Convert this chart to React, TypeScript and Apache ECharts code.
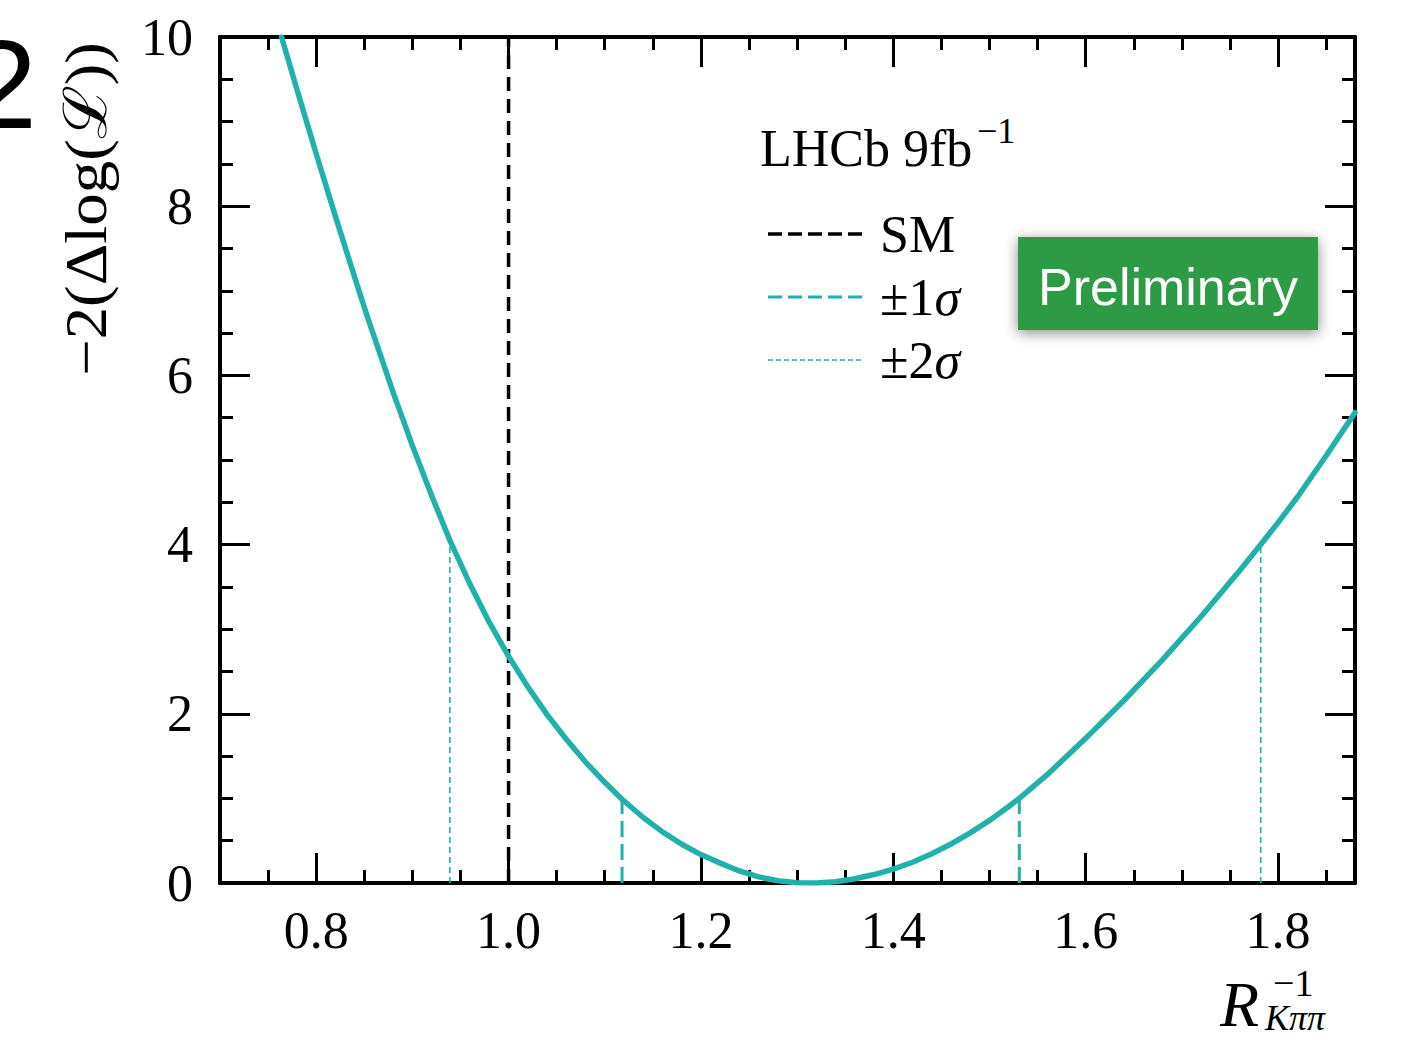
import React, { useEffect, useRef } from "react";
import * as echarts from "echarts";

// Profile likelihood scan: -2 Δlog(L) versus R^-1_{Kππ}
const scanX = [
  0.764, 0.78, 0.8, 0.82, 0.84, 0.853, 0.88, 0.9, 0.92, 0.939, 0.96, 0.98, 1.0,
  1.02, 1.04, 1.06, 1.08, 1.1, 1.118, 1.14, 1.16, 1.18, 1.2, 1.22, 1.24, 1.26,
  1.28, 1.3, 1.32, 1.34, 1.36, 1.38, 1.4, 1.42, 1.44, 1.46, 1.48, 1.5, 1.52,
  1.531, 1.56, 1.6, 1.64, 1.68, 1.72, 1.76, 1.782, 1.8, 1.82, 1.85, 1.88,
];
const scanNll = [
  10.0, 9.38, 8.62, 7.88, 7.16, 6.7, 5.8, 5.17, 4.58, 4.05, 3.53, 3.08, 2.68,
  2.32, 1.99, 1.7, 1.43, 1.19, 0.99, 0.774, 0.604, 0.458, 0.336, 0.235, 0.142,
  0.072, 0.026, 0.003, 0.0, 0.015, 0.05, 0.1, 0.165, 0.245, 0.346, 0.461,
  0.592, 0.74, 0.904, 1.0, 1.28, 1.71, 2.16, 2.64, 3.15, 3.69, 4.0, 4.26,
  4.56, 5.05, 5.56,
];

// Reference lines
const smValue = 1.0;
const sigma1Bounds = [1.118, 1.531];
const sigma1Level = 1;
const sigma2Bounds = [0.939, 1.782];
const sigma2Level = 4;

// Axis ranges and ticks
const xRange = [0.7, 1.88];
const yRange = [0, 10];
const xMajor = [0.8, 1.0, 1.2, 1.4, 1.6, 1.8];
const xMinor = [
  0.75, 0.85, 0.9, 0.95, 1.05, 1.1, 1.15, 1.25, 1.3, 1.35, 1.45, 1.5, 1.55,
  1.65, 1.7, 1.75, 1.85,
];
const yMajor = [0, 2, 4, 6, 8, 10];
const yMinor = [
  0.5, 1, 1.5, 2.5, 3, 3.5, 4.5, 5, 5.5, 6.5, 7, 7.5, 8.5, 9, 9.5,
];

const TEAL = "#20b2aa";
const SERIF = "'Liberation Serif', 'DejaVu Serif', serif";
const SANS = "'Liberation Sans', Arial, sans-serif";

const MAJOR_LEN = 30;
const MINOR_LEN = 13;

function xAxisDef(position: "top" | "bottom", ticks: number[], len: number, main: boolean) {
  return {
    type: "value",
    position,
    min: xRange[0],
    max: xRange[1],
    axisLine: { show: main, onZero: false, lineStyle: { color: "#000", width: 4 } },
    axisTick: {
      show: true,
      inside: true,
      length: len,
      customValues: ticks,
      lineStyle: { color: "#000", width: 3 },
    },
    axisLabel: {
      show: main && position === "bottom",
      customValues: xMajor,
      formatter: (v: number) => v.toFixed(1),
      fontFamily: SERIF,
      fontSize: 52,
      color: "#000",
      margin: 21,
    },
    splitLine: { show: false },
  };
}

function yAxisDef(position: "left" | "right", ticks: number[], len: number, main: boolean) {
  return {
    type: "value",
    position,
    min: yRange[0],
    max: yRange[1],
    axisLine: { show: main, onZero: false, lineStyle: { color: "#000", width: 4 } },
    axisTick: {
      show: true,
      inside: true,
      length: len,
      customValues: ticks,
      lineStyle: { color: "#000", width: 3 },
    },
    axisLabel: {
      show: main && position === "left",
      customValues: yMajor,
      formatter: (v: number) => String(v),
      fontFamily: SERIF,
      fontSize: 52,
      color: "#000",
      margin: 27,
    },
    splitLine: { show: false },
  };
}

function vLine(name: string, x: number, top: number, color: string, width: number, dash: number[]) {
  return {
    name,
    type: "line",
    xAxisIndex: 0,
    yAxisIndex: 0,
    data: [
      [x, 0],
      [x, top],
    ],
    showSymbol: false,
    silent: true,
    lineStyle: { color, width, type: dash },
    z: 3,
  };
}

function legendRow(y: number, color: string, width: number, dash: number[], rich: string) {
  return [
    {
      type: "line",
      shape: { x1: 768, y1: y, x2: 864, y2: y },
      style: { stroke: color, lineWidth: width, lineDash: dash },
    },
    {
      type: "text",
      x: 880,
      y,
      style: {
        text: rich,
        fill: "#000",
        font: `52px ${SERIF}`,
        verticalAlign: "middle",
        rich: {
          n: { fontFamily: SERIF, fontSize: 52, fill: "#000" },
          i: { fontFamily: SERIF, fontSize: 52, fontStyle: "italic", fill: "#000" },
        },
      },
    },
  ];
}

export default function App() {
  const ref = useRef<HTMLDivElement>(null);

  useEffect(() => {
    document.body.style.margin = "0";
    if (!ref.current) return;
    const chart = echarts.init(ref.current, null, { renderer: "svg" });

    const curve = scanX.map((x, i) => [x, scanNll[i]]);

    const option: any = {
      animation: false,
      backgroundColor: "#ffffff",
      grid: {
        left: 220,
        right: 49,
        top: 37,
        bottom: 156,
        outerBoundsMode: "none",
      },
      xAxis: [
        xAxisDef("bottom", xMajor, MAJOR_LEN, true),
        xAxisDef("bottom", xMinor, MINOR_LEN, false),
        xAxisDef("top", xMajor, MAJOR_LEN, true),
        xAxisDef("top", xMinor, MINOR_LEN, false),
      ],
      yAxis: [
        yAxisDef("left", yMajor, MAJOR_LEN, true),
        yAxisDef("left", yMinor, MINOR_LEN, false),
        yAxisDef("right", yMajor, MAJOR_LEN, true),
        yAxisDef("right", yMinor, MINOR_LEN, false),
      ],
      series: [
        vLine("SM", smValue, yRange[1], "#000", 3.5, [14, 8]),
        ...sigma2Bounds.map((x) => vLine("±2σ", x, sigma2Level, TEAL, 1.6, [6, 4])),
        ...sigma1Bounds.map((x) => vLine("±1σ", x, sigma1Level, TEAL, 3, [16, 7])),
        {
          name: "scan",
          type: "line",
          xAxisIndex: 0,
          yAxisIndex: 0,
          data: curve,
          showSymbol: false,
          smooth: false,
          lineStyle: { color: TEAL, width: 5.5, join: "round", cap: "round" },
          z: 4,
        },
      ],
      graphic: [
        // large panel number, partly outside the page
        {
          type: "text",
          x: 37,
          y: 84,
          style: {
            text: "2",
            font: `126px ${SANS}`,
            fill: "#000",
            align: "right",
            verticalAlign: "middle",
          },
        },
        // y-axis title
        {
          type: "text",
          x: 86,
          y: 209,
          rotation: Math.PI / 2,
          scaleX: 1.08,
          style: {
            text: "−2(Δlog(ℒ))",
            font: `60px ${SERIF}`,
            fill: "#000",
            align: "center",
            verticalAlign: "middle",
          },
        },
        // x-axis title R^{-1}_{Kππ}
        {
          type: "text",
          x: 1220,
          y: 1004,
          style: {
            text: "R",
            font: `italic 64px ${SERIF}`,
            fill: "#000",
            align: "left",
            verticalAlign: "middle",
          },
        },
        {
          type: "text",
          x: 1273,
          y: 983,
          style: {
            text: "−1",
            font: `38px ${SERIF}`,
            fill: "#000",
            align: "left",
            verticalAlign: "middle",
          },
        },
        {
          type: "text",
          x: 1265,
          y: 1018,
          style: {
            text: "Kππ",
            font: `italic 36px ${SERIF}`,
            fill: "#000",
            align: "left",
            verticalAlign: "middle",
          },
        },
        // experiment label
        {
          type: "text",
          x: 760,
          y: 148,
          style: {
            text: "LHCb 9fb",
            font: `52px ${SERIF}`,
            fill: "#000",
            align: "left",
            verticalAlign: "middle",
          },
        },
        {
          type: "text",
          x: 977,
          y: 131,
          style: {
            text: "−1",
            font: `36px ${SERIF}`,
            fill: "#000",
            align: "left",
            verticalAlign: "middle",
          },
        },
        // legend
        ...legendRow(234, "#000", 3.5, [14, 6], "{n|SM}"),
        ...legendRow(297, TEAL, 3, [14, 6], "{n|±1}{i|σ}"),
        ...legendRow(360, TEAL, 1.6, [5, 3], "{n|±2}{i|σ}"),
        // preliminary badge
        {
          type: "rect",
          shape: { x: 1018, y: 237, width: 300, height: 93 },
          style: {
            fill: "#2f9a45",
            shadowBlur: 14,
            shadowColor: "rgba(0,0,0,0.45)",
            shadowOffsetX: 0,
            shadowOffsetY: 3,
          },
          z: 10,
        },
        {
          type: "text",
          x: 1168,
          y: 287,
          z: 11,
          style: {
            text: "Preliminary",
            font: `52px ${SANS}`,
            fill: "#ffffff",
            align: "center",
            verticalAlign: "middle",
            shadowBlur: 4,
            shadowColor: "rgba(0,0,0,0.55)",
            shadowOffsetX: 1,
            shadowOffsetY: 2,
          },
        },
      ],
    };

    chart.setOption(option);
    return () => chart.dispose();
  }, []);

  return <div ref={ref} style={{ width: 1404, height: 1039, background: "#fff" }} />;
}
